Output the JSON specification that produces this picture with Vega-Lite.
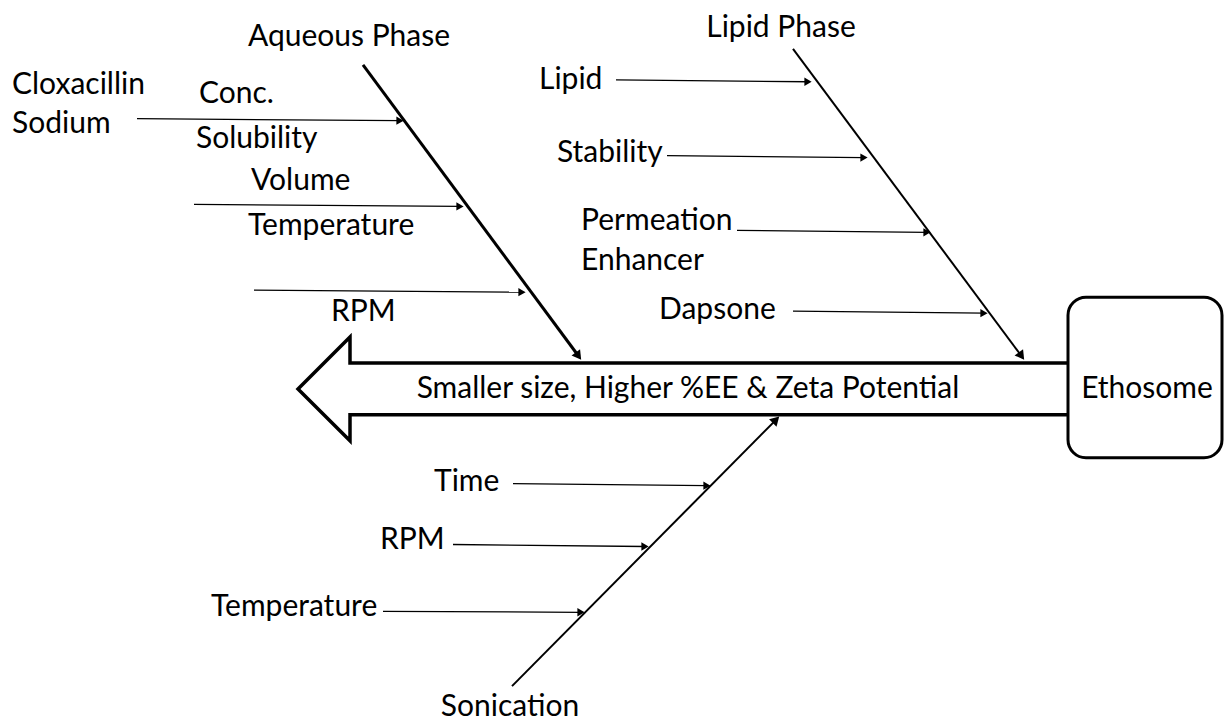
{
  "$schema": "https://vega.github.io/schema/vega-lite/v6.json",
  "width": 1226,
  "height": 722,
  "padding": 0,
  "autosize": {"type": "fit", "contains": "padding"},
  "config": {"view": {"stroke": null}, "background": "white"},
  "datasets": {
    "outline": [
      {"id": "o", "ord": 1, "x": 1068, "y": 364},
      {"id": "o", "ord": 2, "x": 350, "y": 364},
      {"id": "o", "ord": 3, "x": 350, "y": 338},
      {"id": "o", "ord": 4, "x": 298, "y": 390},
      {"id": "o", "ord": 5, "x": 350, "y": 442},
      {"id": "o", "ord": 6, "x": 350, "y": 416},
      {"id": "o", "ord": 7, "x": 1068, "y": 416}
    ],
    "bones": [
      {"id": "aq", "kind": "thick", "ord": 1, "x": 363, "y": 65},
      {"id": "aq", "kind": "thick", "ord": 2, "x": 578.5, "y": 357},
      {"id": "lip", "kind": "thin", "ord": 1, "x": 793, "y": 49},
      {"id": "lip", "kind": "thin", "ord": 2, "x": 1021.5, "y": 357},
      {"id": "son", "kind": "thin", "ord": 1, "x": 512, "y": 688},
      {"id": "son", "kind": "thin", "ord": 2, "x": 776, "y": 421}
    ],
    "branches": [
      {"id": "a1", "ord": 1, "x": 137, "y": 119}, {"id": "a1", "ord": 2, "x": 400, "y": 121},
      {"id": "a2", "ord": 1, "x": 194, "y": 205}, {"id": "a2", "ord": 2, "x": 460, "y": 207},
      {"id": "a3", "ord": 1, "x": 254, "y": 291}, {"id": "a3", "ord": 2, "x": 522, "y": 293},
      {"id": "l1", "ord": 1, "x": 616, "y": 80}, {"id": "l1", "ord": 2, "x": 808, "y": 82},
      {"id": "l2", "ord": 1, "x": 667, "y": 156}, {"id": "l2", "ord": 2, "x": 864, "y": 158},
      {"id": "l3", "ord": 1, "x": 737, "y": 231}, {"id": "l3", "ord": 2, "x": 927, "y": 233},
      {"id": "l4", "ord": 1, "x": 793, "y": 312}, {"id": "l4", "ord": 2, "x": 984, "y": 314},
      {"id": "s1", "ord": 1, "x": 513, "y": 485}, {"id": "s1", "ord": 2, "x": 707, "y": 487},
      {"id": "s2", "ord": 1, "x": 453, "y": 546}, {"id": "s2", "ord": 2, "x": 645, "y": 548},
      {"id": "s3", "ord": 1, "x": 383, "y": 613}, {"id": "s3", "ord": 2, "x": 581, "y": 614}
    ],
    "heads": [
      {"dir": "h", "x": 400, "y": 121},
      {"dir": "h", "x": 460, "y": 207},
      {"dir": "h", "x": 522, "y": 293},
      {"dir": "h", "x": 808, "y": 82},
      {"dir": "h", "x": 864, "y": 158},
      {"dir": "h", "x": 927, "y": 233},
      {"dir": "h", "x": 984, "y": 314},
      {"dir": "h", "x": 707, "y": 487},
      {"dir": "h", "x": 645, "y": 548},
      {"dir": "h", "x": 581, "y": 614},
      {"dir": "down", "x": 578.5, "y": 357},
      {"dir": "down", "x": 1021.5, "y": 357},
      {"dir": "up", "x": 776, "y": 421}
    ],
    "box": [{"x": 1068, "x2": 1222, "y": 298, "y2": 459}],
    "labels": [
      {"t": "Aqueous Phase", "pos": "c", "x": 349, "y": 37},
      {"t": "Lipid Phase", "pos": "c", "x": 781, "y": 28},
      {"t": "Cloxacillin", "pos": "l", "x": 12, "y": 85},
      {"t": "Sodium", "pos": "l", "x": 12, "y": 124},
      {"t": "Conc.", "pos": "l", "x": 199, "y": 94},
      {"t": "Solubility", "pos": "l", "x": 196, "y": 139},
      {"t": "Volume", "pos": "l", "x": 251, "y": 182},
      {"t": "Temperature", "pos": "l", "x": 248, "y": 227},
      {"t": "RPM", "pos": "l", "x": 331, "y": 313},
      {"t": "Lipid", "pos": "l", "x": 539, "y": 80},
      {"t": "Stability", "pos": "l", "x": 557, "y": 153},
      {"t": "Permeation", "pos": "l", "x": 581, "y": 222},
      {"t": "Enhancer", "pos": "l", "x": 581, "y": 262},
      {"t": "Dapsone", "pos": "l", "x": 659, "y": 311},
      {"t": "Smaller size, Higher %EE & Zeta Potential", "pos": "c", "x": 688, "y": 390},
      {"t": "Ethosome", "pos": "c", "x": 1147, "y": 390},
      {"t": "Time", "pos": "l", "x": 434, "y": 483},
      {"t": "RPM", "pos": "l", "x": 380, "y": 542},
      {"t": "Temperature", "pos": "l", "x": 211, "y": 609},
      {"t": "Sonication", "pos": "c", "x": 510, "y": 709}
    ]
  },
  "encoding": {
    "x": {"field": "x", "type": "quantitative", "axis": null, "scale": {"domain": [0, 1226], "nice": false, "zero": false}},
    "y": {"field": "y", "type": "quantitative", "axis": null, "scale": {"domain": [0, 722], "nice": false, "zero": false, "reverse": true}}
  },
  "layer": [
    {
      "data": {"name": "outline"},
      "mark": {"type": "line", "color": "black", "strokeWidth": 3.5, "strokeJoin": "miter"},
      "encoding": {"order": {"field": "ord", "type": "quantitative"}, "detail": {"field": "id"}}
    },
    {
      "data": {"name": "box"},
      "mark": {"type": "rect", "fill": "white", "stroke": "black", "strokeWidth": 3, "cornerRadius": 18},
      "encoding": {"x2": {"field": "x2"}, "y2": {"field": "y2"}}
    },
    {
      "data": {"name": "bones"},
      "transform": [{"filter": "datum.kind === 'thick'"}],
      "mark": {"type": "line", "color": "black", "strokeWidth": 3},
      "encoding": {"order": {"field": "ord", "type": "quantitative"}, "detail": {"field": "id"}}
    },
    {
      "data": {"name": "bones"},
      "transform": [{"filter": "datum.kind === 'thin'"}],
      "mark": {"type": "line", "color": "black", "strokeWidth": 2},
      "encoding": {"order": {"field": "ord", "type": "quantitative"}, "detail": {"field": "id"}}
    },
    {
      "data": {"name": "branches"},
      "mark": {"type": "line", "color": "black", "strokeWidth": 1.3},
      "encoding": {"order": {"field": "ord", "type": "quantitative"}, "detail": {"field": "id"}}
    },
    {
      "data": {"name": "heads"},
      "transform": [{"filter": "datum.dir === 'h'"}],
      "mark": {"type": "point", "shape": "triangle-right", "filled": true, "color": "black", "size": 70, "opacity": 1}
    },
    {
      "data": {"name": "heads"},
      "transform": [{"filter": "datum.dir === 'down'"}],
      "mark": {"type": "point", "shape": "triangle-right", "filled": true, "color": "black", "size": 110, "angle": 54, "opacity": 1}
    },
    {
      "data": {"name": "heads"},
      "transform": [{"filter": "datum.dir === 'up'"}],
      "mark": {"type": "point", "shape": "triangle-right", "filled": true, "color": "black", "size": 110, "angle": 315, "opacity": 1}
    },
    {
      "data": {"name": "labels"},
      "transform": [{"filter": "datum.pos === 'l'"}],
      "mark": {"type": "text", "align": "left", "baseline": "middle", "font": "Lato", "fontSize": 30, "color": "black"},
      "encoding": {"text": {"field": "t"}}
    },
    {
      "data": {"name": "labels"},
      "transform": [{"filter": "datum.pos === 'c'"}],
      "mark": {"type": "text", "align": "center", "baseline": "middle", "font": "Lato", "fontSize": 30, "color": "black"},
      "encoding": {"text": {"field": "t"}}
    }
  ]
}
